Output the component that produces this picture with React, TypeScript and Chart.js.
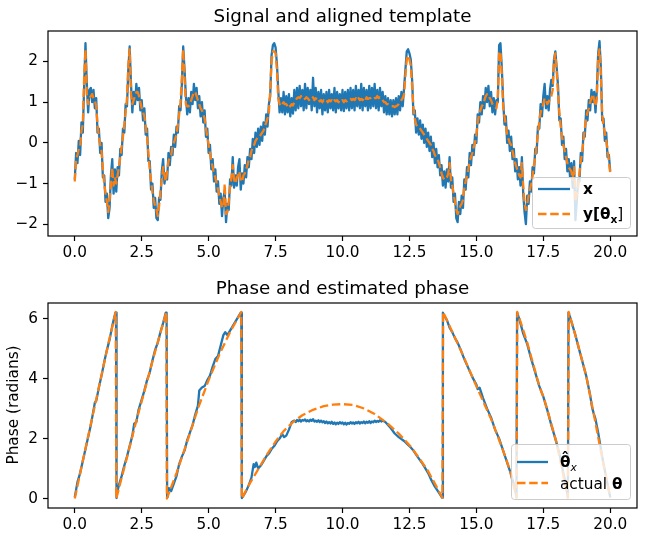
import React, { useEffect, useRef } from "react";
import { Chart, registerables } from "chart.js";

Chart.register(...registerables);

// ---------------- DATA ----------------
// Top panel: samples every SIGNAL_DT seconds, starting at t = 0
const SIGNAL_DT = 0.05;

// x : observed noisy signal (blue)
const signalX = [
  -0.90, -0.25, -0.50, 0.05, -0.30, 0.50, 0.25, 1.40, 2.45, 1.45, 0.75, 1.30, 1.35, 1.00, 1.30, 0.85, 1.10, 0.25, 0.35, -0.25,
  0.00, -0.85, -0.80, -1.45, -1.25, -1.85, -1.60, -0.80, -0.40, -1.25, -0.65, -1.20, -0.60, -0.80, -0.15, -0.30, 0.35, 0.25, 0.95, 0.90,
  1.80, 2.37, 1.45, 0.75, 1.25, 0.95, 1.45, 1.05, 1.35, 0.80, 1.05, 0.55, 0.85, 0.20, 0.35, -0.45, -0.45, -1.15, -1.00, -1.60,
  -1.35, -1.85, -1.90, -1.35, -1.40, -0.70, -0.40, -1.00, -0.75, -0.90, -0.25, -0.55, -0.10, -0.30, 0.20, -0.10, 0.40, 0.25, 0.90, 0.80,
  1.45, 2.37, 1.80, 1.15, 0.70, 1.10, 0.75, 1.25, 0.95, 1.45, 1.05, 1.35, 0.85, 1.15, 0.65, 1.00, 0.50, 0.80, 0.15, 0.35,
  -0.25, -0.05, -0.65, -0.40, -0.95, -0.65, -1.20, -0.95, -1.50, -1.25, -1.80, -1.35, -1.20, -1.95, -1.50, -1.65, -0.90, -1.05, -0.35, -1.10,
  -0.80, -1.05, -0.60, -0.40, -1.15, -0.75, -1.00, -0.55, -0.85, -0.35, -0.60, -0.15, -0.40, 0.10, -0.25, 0.25, -0.10, 0.35, -0.05, 0.40,
  0.05, 0.50, 0.20, 0.70, 0.40, 0.95, 1.15, 2.15, 2.40, 2.45, 2.35, 1.95, 1.30, 0.75, 1.10, 0.75, 1.25, 0.70, 1.15, 0.75,
  1.20, 0.65, 1.10, 0.72, 1.30, 0.80, 1.35, 0.85, 1.40, 0.90, 1.30, 0.80, 1.45, 0.85, 1.35, 0.95, 1.30, 0.80, 1.60, 0.90,
  1.35, 0.75, 1.25, 0.85, 1.30, 0.70, 1.20, 0.80, 1.25, 0.75, 1.30, 0.85, 1.20, 0.80, 1.35, 0.75, 1.25, 0.85, 1.20, 0.80,
  1.30, 0.78, 1.25, 0.85, 1.30, 0.80, 1.35, 0.85, 1.30, 0.80, 1.40, 0.90, 1.30, 0.85, 1.45, 0.80, 1.35, 0.90, 1.30, 0.80,
  1.40, 0.85, 1.35, 0.90, 1.45, 0.85, 1.30, 0.80, 1.35, 0.90, 1.25, 0.75, 1.15, 0.70, 1.10, 0.70, 1.05, 0.65, 1.05, 0.70,
  1.10, 0.70, 1.15, 0.80, 1.25, 0.90, 1.35, 1.80, 2.25, 2.30, 2.20, 2.05, 1.55, 0.70, 0.80, 0.25, 0.60, 0.20, 0.55, 0.10,
  0.45, 0.00, 0.35, -0.10, 0.25, -0.20, 0.15, -0.35, 0.00, -0.50, -0.15, -0.60, -0.30, -0.80, -0.55, -1.05, -0.70, -1.10, -0.65, -0.95,
  -0.35, -1.10, -0.85, -1.45, -1.25, -1.85, -1.95, -1.45, -1.75, -1.30, -1.60, -0.90, -1.15, -0.60, -0.85, -0.25, -0.55, -0.05, -0.30, 0.20,
  0.00, 0.70, 0.50, 1.00, 0.70, 1.15, 0.85, 1.35, 1.00, 1.40, 0.90, 1.25, 0.75, 1.10, 0.70, 1.05, 1.00, 2.40, 2.45, 1.85,
  1.05, 0.45, 0.65, 0.00, 0.30, -0.20, 0.15, -0.40, -0.15, -0.70, -0.40, -0.90, -0.60, -1.05, -0.35, -1.25, -1.70, -2.00, -1.30, -1.50,
  -0.95, -1.20, -0.60, -0.75, -0.15, -0.25, 0.40, 0.35, 0.95, 0.65, 1.15, 1.45, 0.85, 1.15, 0.80, 1.30, 1.55, 1.40, 2.05, 2.25,
  1.85, 1.40, 0.55, 0.60, -0.05, 0.15, -0.40, -0.15, -0.70, -0.40, -0.85, -0.50, -1.10, -0.45, -1.90, -1.45, -0.90, -0.95, -0.25, -0.45,
  0.25, 0.15, 0.80, 0.55, 1.05, 0.80, 1.30, 1.00, 1.25, 0.75, 1.30, 2.20, 2.50, 1.85, 0.55, 0.60, 0.05, 0.25, -0.35, -0.30,
  -0.70,
];

// y[theta_x] : aligned template (orange dashed)
const templateY = [
  -0.95, -0.40, -0.30, -0.15, -0.10, 0.30, 0.45, 1.60, 2.30, 1.20, 0.95, 1.10, 1.15, 1.20, 1.10, 1.05, 0.90, 0.45, 0.15, -0.05,
  -0.20, -0.65, -1.00, -1.25, -1.45, -1.70, -1.40, -1.00, -0.60, -1.05, -0.85, -1.00, -0.80, -0.60, -0.35, -0.10, 0.15, 0.45, 0.75, 1.10,
  1.90, 2.30, 1.20, 0.95, 1.05, 1.15, 1.25, 1.25, 1.15, 1.00, 0.85, 0.75, 0.65, 0.40, 0.15, -0.25, -0.65, -0.95, -1.20, -1.40,
  -1.55, -1.65, -1.80, -1.55, -1.20, -0.90, -0.60, -0.80, -0.95, -0.70, -0.45, -0.35, -0.30, -0.10, 0.00, 0.10, 0.20, 0.45, 0.70, 1.00,
  1.60, 2.30, 1.60, 0.95, 0.90, 0.90, 0.95, 1.05, 1.15, 1.25, 1.25, 1.15, 1.05, 0.95, 0.85, 0.80, 0.70, 0.60, 0.35, 0.15,
  -0.05, -0.25, -0.45, -0.60, -0.75, -0.85, -1.00, -1.15, -1.30, -1.45, -1.60, -1.55, -1.00, -1.75, -1.70, -1.45, -1.10, -0.85, -0.55, -0.90,
  -1.00, -0.85, -0.80, -0.70, -0.95, -0.95, -0.80, -0.75, -0.65, -0.55, -0.40, -0.35, -0.20, -0.10, -0.05, 0.05, 0.10, 0.15, 0.15, 0.20,
  0.25, 0.30, 0.40, 0.50, 0.60, 0.75, 1.30, 2.00, 2.25, 2.25, 2.20, 1.80, 1.10, 0.95, 0.90, 0.95, 1.00, 0.95, 0.95, 0.90,
  0.95, 0.90, 0.95, 0.92, 1.00, 1.05, 1.10, 1.12, 1.10, 1.15, 1.10, 1.12, 1.08, 1.12, 1.10, 1.05, 1.10, 1.08, 1.12, 1.05,
  1.10, 1.05, 1.08, 1.02, 1.05, 1.00, 1.05, 1.02, 1.05, 1.00, 1.05, 1.02, 1.05, 1.00, 1.05, 1.02, 1.05, 1.00, 1.05, 1.02,
  1.05, 1.00, 1.05, 1.02, 1.05, 1.05, 1.08, 1.05, 1.08, 1.05, 1.10, 1.05, 1.10, 1.05, 1.08, 1.05, 1.10, 1.05, 1.12, 1.08,
  1.10, 1.10, 1.12, 1.08, 1.10, 1.10, 1.15, 1.10, 1.12, 1.10, 1.05, 1.00, 1.00, 0.95, 0.95, 0.92, 0.90, 0.90, 0.90, 0.88,
  0.90, 0.92, 0.95, 1.00, 1.05, 1.10, 1.20, 1.65, 2.05, 2.15, 2.05, 1.90, 1.40, 0.85, 0.60, 0.45, 0.40, 0.40, 0.35, 0.30,
  0.25, 0.20, 0.15, 0.10, 0.05, 0.00, -0.05, -0.15, -0.20, -0.30, -0.35, -0.40, -0.50, -0.60, -0.75, -0.85, -0.90, -0.90, -0.85, -0.75,
  -0.50, -0.90, -1.05, -1.25, -1.45, -1.65, -1.75, -1.65, -1.55, -1.50, -1.40, -1.10, -0.95, -0.80, -0.65, -0.45, -0.35, -0.25, -0.10, 0.00,
  0.20, 0.50, 0.70, 0.80, 0.90, 0.95, 1.05, 1.15, 1.20, 1.20, 1.10, 1.05, 0.95, 0.90, 0.88, 0.85, 1.10, 2.20, 2.25, 1.70,
  0.90, 0.65, 0.45, 0.20, 0.10, 0.00, -0.05, -0.20, -0.35, -0.50, -0.60, -0.70, -0.80, -0.85, -0.50, -1.05, -1.50, -1.65, -1.50, -1.30,
  -1.15, -1.00, -0.80, -0.55, -0.35, -0.05, 0.20, 0.55, 0.75, 0.85, 0.95, 1.10, 1.05, 0.95, 1.00, 1.10, 1.15, 1.30, 2.00, 2.20,
  1.75, 1.20, 0.75, 0.40, 0.15, -0.05, -0.20, -0.35, -0.50, -0.60, -0.65, -0.70, -0.90, -0.60, -1.45, -1.25, -1.10, -0.75, -0.45, -0.25,
  0.05, 0.35, 0.60, 0.75, 0.85, 1.00, 1.10, 1.20, 1.05, 0.90, 1.10, 2.10, 2.30, 1.70, 0.70, 0.40, 0.25, 0.05, -0.15, -0.45,
  -0.75,
];

// Bottom panel: [time, phase] pairs
const phaseEstimated = [
  [0, 0.05], [0.05, 0.3], [0.1, 0.55], [0.2, 0.85], [0.3, 1.25], [0.4, 1.65], [0.5, 2.05], [0.6, 2.45], [0.7, 2.95], [0.75, 3.2],
  [0.8, 3.25], [0.9, 3.7], [1.0, 4.1], [1.1, 4.55], [1.2, 4.95], [1.3, 5.3], [1.4, 5.75], [1.45, 5.95], [1.52, 6.2], [1.54, 6.2], [1.55, 0.02],
  [1.57, 0.1], [1.65, 0.45], [1.75, 0.75], [1.85, 1.1], [1.95, 1.4], [2.05, 1.75], [2.15, 2.1], [2.22, 2.5], [2.3, 2.55], [2.38, 2.95],
  [2.5, 3.3], [2.6, 3.6], [2.7, 3.95], [2.8, 4.2], [2.9, 4.6], [3.0, 4.95], [3.1, 5.2], [3.2, 5.55], [3.3, 5.85], [3.4, 6.2], [3.43, 6.2], [3.45, 0.05],
  [3.47, 0.15], [3.52, 0.35], [3.6, 0.25], [3.7, 0.5], [3.8, 0.75], [3.9, 1.15], [4.0, 1.4], [4.1, 1.6], [4.2, 1.95], [4.3, 2.2],
  [4.4, 2.45], [4.5, 2.8], [4.6, 3.1], [4.65, 3.6], [4.75, 3.7], [4.85, 3.75], [4.95, 3.95], [5.05, 4.1], [5.15, 4.4], [5.25, 4.65],
  [5.35, 4.75], [5.45, 5.1], [5.55, 5.45], [5.62, 5.55], [5.7, 5.45], [5.8, 5.6], [5.9, 5.75], [6.0, 5.9], [6.1, 6.05], [6.2, 6.2], [6.22, 6.2], [6.24, 0.02],
  [6.3, 0.1], [6.4, 0.25], [6.5, 0.45], [6.6, 0.7], [6.68, 1.15], [6.72, 1.05], [6.78, 1.2], [6.85, 1.0], [6.95, 1.1], [7.05, 1.25],
  [7.15, 1.4], [7.25, 1.5], [7.35, 1.65], [7.45, 1.75], [7.55, 1.9], [7.65, 2.0], [7.75, 2.15], [7.82, 2.05], [7.9, 2.1], [8.0, 2.3], [8.1, 2.55],
  [8.15, 2.58], [8.2, 2.6], [8.25, 2.55], [8.3, 2.62], [8.35, 2.58], [8.4, 2.63], [8.45, 2.57], [8.5, 2.62], [8.55, 2.6], [8.6, 2.64],
  [8.65, 2.58], [8.7, 2.61], [8.75, 2.57], [8.8, 2.63], [8.85, 2.59], [8.9, 2.65], [8.95, 2.57], [9.0, 2.6], [9.05, 2.56], [9.1, 2.61],
  [9.15, 2.55], [9.2, 2.6], [9.25, 2.54], [9.3, 2.58], [9.35, 2.52], [9.4, 2.57], [9.45, 2.51], [9.5, 2.55], [9.55, 2.5], [9.6, 2.56],
  [9.65, 2.49], [9.7, 2.54], [9.75, 2.48], [9.8, 2.53], [9.85, 2.49], [9.9, 2.55], [9.95, 2.5], [10.0, 2.54], [10.05, 2.48], [10.1, 2.53],
  [10.15, 2.47], [10.2, 2.52], [10.25, 2.49], [10.3, 2.55], [10.35, 2.5], [10.4, 2.54], [10.45, 2.49], [10.5, 2.55], [10.55, 2.51], [10.6, 2.56],
  [10.65, 2.5], [10.7, 2.55], [10.75, 2.52], [10.8, 2.57], [10.85, 2.51], [10.9, 2.56], [10.95, 2.53], [11.0, 2.58], [11.05, 2.52], [11.1, 2.57],
  [11.15, 2.54], [11.2, 2.6], [11.25, 2.55], [11.3, 2.59], [11.35, 2.56], [11.4, 2.61], [11.45, 2.57], [11.5, 2.6], [11.55, 2.58], [11.6, 2.55],
  [11.7, 2.45], [11.8, 2.35], [11.95, 2.17], [12.1, 2.05], [12.3, 1.92], [12.5, 1.75], [12.65, 1.6], [12.8, 1.4], [13.0, 1.15], [13.2, 0.85],
  [13.3, 0.65], [13.45, 0.4], [13.6, 0.2], [13.72, 0.03], [13.75, 6.2],
  [13.8, 6.1], [13.9, 5.95], [14.0, 5.7], [14.1, 5.55], [14.2, 5.35], [14.3, 5.2], [14.42, 4.95], [14.55, 4.65], [14.7, 4.35], [14.85, 4.05],
  [15.0, 3.8], [15.05, 3.65], [15.12, 3.7], [15.25, 3.35], [15.4, 3.0], [15.55, 2.7], [15.7, 2.3], [15.85, 2.0], [16.0, 1.6], [16.15, 1.2],
  [16.3, 0.8], [16.42, 0.4], [16.5, 0.05], [16.52, 6.2],
  [16.6, 6.0], [16.75, 5.5], [16.9, 5.15], [17.05, 4.65], [17.2, 4.2], [17.35, 3.75], [17.5, 3.4], [17.65, 2.95], [17.8, 2.45], [17.95, 2.0],
  [18.1, 1.5], [18.25, 0.85], [18.35, 0.45], [18.42, 0.05], [18.44, 6.2],
  [18.5, 6.05], [18.6, 5.75], [18.7, 5.45], [18.8, 5.1], [18.95, 4.6], [19.1, 4.1], [19.25, 3.45], [19.32, 3.05], [19.38, 2.85], [19.45, 2.65],
  [19.55, 2.2], [19.7, 1.4], [19.85, 0.7], [20.0, 0.05],
];

const phaseActual = [
  [0, 0], [0.25, 1.05], [0.5, 2.08], [0.75, 3.1], [1.0, 4.12], [1.25, 5.15], [1.53, 6.22], [1.55, 0],
  [2.0, 1.55], [2.3, 2.6], [2.5, 3.25], [3.0, 4.9], [3.42, 6.22], [3.44, 0],
  [3.8, 0.85], [4.2, 1.9], [4.6, 3.0], [5.0, 3.95], [5.4, 4.8], [5.8, 5.55], [6.22, 6.22], [6.24, 0],
  [6.5, 0.45], [6.9, 1.05], [7.2, 1.5], [7.53, 1.94], [7.8, 2.25], [8.15, 2.55], [8.5, 2.78], [8.9, 2.96], [9.3, 3.08], [9.64, 3.13],
  [10.0, 3.15], [10.4, 3.12], [10.82, 3.0], [11.2, 2.82], [11.69, 2.5], [12.1, 2.17], [12.56, 1.72], [12.9, 1.3], [13.18, 0.94], [13.45, 0.5],
  [13.73, 0.03], [13.76, 6.22],
  [14.0, 5.75], [14.42, 4.94], [15.0, 3.75], [15.6, 2.55], [16.0, 1.6], [16.25, 0.95], [16.5, 0.03], [16.53, 6.22],
  [16.9, 5.2], [17.35, 3.75], [17.54, 3.3], [18.0, 1.85], [18.42, 0.03], [18.45, 6.22],
  [18.79, 5.15], [19.1, 4.1], [19.4, 2.75], [19.7, 1.35], [20.0, 0.03],
];

const xTickValues = [0, 2.5, 5, 7.5, 10, 12.5, 15, 17.5, 20];
const signalYTicks = [-2, -1, 0, 1, 2];
const phaseYTicks = [0, 2, 4, 6];

const topTitle = "Signal and aligned template";
const bottomTitle = "Phase and estimated phase";
const bottomYLabel = "Phase (radians)";

// ---------------- STYLE ----------------
const FONT = '"DejaVu Sans", "Liberation Sans", sans-serif';
const BLUE = "#1f77b4";
const ORANGE = "#ff7f0e";
const LW = 2.3;
const DASH = [8.5, 3.7];
const TICK_SIZE = 15.3;
const TITLE_SIZE = 18.3;

Chart.defaults.font.family = FONT;

function fmtX(v: number) {
  return Number(v).toFixed(1);
}
function fmtY(v: number) {
  return v < 0 ? "\u2212" + Math.abs(v) : String(v);
}

function xAxis(height: number) {
  return {
    type: "linear",
    min: -1,
    max: 21,
    afterBuildTicks: (s: any) => {
      s.ticks = xTickValues.map((v) => ({ value: v }));
    },
    afterFit: (s: any) => {
      s.height = height;
    },
    ticks: {
      callback: (v: any) => fmtX(v),
      color: "#000",
      font: { family: FONT, size: TICK_SIZE },
      padding: 3,
      maxRotation: 0,
      minRotation: 0,
      autoSkip: false,
    },
    grid: {
      display: true,
      drawOnChartArea: false,
      drawTicks: true,
      tickLength: 5,
      tickWidth: 1.2,
      tickColor: "#000",
    },
    border: { display: false },
  };
}

function yAxis(min: number, max: number, tickVals: number[]) {
  return {
    type: "linear",
    min,
    max,
    afterBuildTicks: (s: any) => {
      s.ticks = tickVals.map((v) => ({ value: v }));
    },
    afterFit: (s: any) => {
      s.width = 40;
    },
    ticks: {
      callback: (v: any) => fmtY(v),
      color: "#000",
      font: { family: FONT, size: TICK_SIZE },
      padding: 5,
      autoSkip: false,
    },
    grid: {
      display: true,
      drawOnChartArea: false,
      drawTicks: true,
      tickLength: 5,
      tickWidth: 1.2,
      tickColor: "#000",
    },
    border: { display: false },
  };
}

type Part = { text: string; bold?: boolean; italic?: boolean; size?: number; dy?: number };
type Row = { color: string; dash?: number[]; ly: number; x1: number; x2: number; tx: number; base: number; parts: Part[] };
type Legend = { x: number; y: number; w: number; h: number; rows: Row[] };

function drawLegend(ctx: CanvasRenderingContext2D, L: Legend) {
  ctx.save();
  ctx.beginPath();
  (ctx as any).roundRect(L.x + 0.5, L.y + 0.5, L.w, L.h, 3);
  ctx.fillStyle = "rgba(255,255,255,0.8)";
  ctx.fill();
  ctx.lineWidth = 1;
  ctx.strokeStyle = "#cccccc";
  ctx.stroke();
  for (const r of L.rows) {
    ctx.beginPath();
    ctx.moveTo(r.x1, r.ly);
    ctx.lineTo(r.x2, r.ly);
    ctx.strokeStyle = r.color;
    ctx.lineWidth = LW;
    ctx.lineCap = "butt";
    ctx.setLineDash(r.dash || []);
    ctx.stroke();
    ctx.setLineDash([]);
    let tx = r.tx;
    for (const p of r.parts) {
      ctx.font = `${p.italic ? "italic " : ""}${p.bold ? "bold " : ""}${p.size || TICK_SIZE}px ${FONT}`;
      ctx.fillStyle = "#000";
      ctx.textAlign = "left";
      ctx.textBaseline = "alphabetic";
      ctx.fillText(p.text, tx, r.base + (p.dy || 0));
      tx += ctx.measureText(p.text).width;
    }
  }
  ctx.restore();
}

function decor(id: string, title: string, titleBase: number, legend: Legend, ylabel?: { text: string; x: number; y: number }) {
  return {
    id,
    afterDraw(chart: any) {
      const ctx = chart.ctx as CanvasRenderingContext2D;
      const a = chart.chartArea;
      ctx.save();
      ctx.strokeStyle = "#000";
      ctx.lineWidth = 1.2;
      ctx.strokeRect(a.left, a.top, a.right - a.left, a.bottom - a.top);
      ctx.fillStyle = "#000";
      ctx.font = `${TITLE_SIZE}px ${FONT}`;
      ctx.textAlign = "center";
      ctx.textBaseline = "alphabetic";
      ctx.fillText(title, (a.left + a.right) / 2, titleBase);
      if (ylabel) {
        ctx.save();
        ctx.translate(ylabel.x, ylabel.y);
        ctx.rotate(-Math.PI / 2);
        ctx.font = `${TICK_SIZE}px ${FONT}`;
        ctx.textAlign = "center";
        ctx.textBaseline = "middle";
        ctx.fillText(ylabel.text, 0, 0);
        ctx.restore();
      }
      ctx.restore();
      drawLegend(ctx, legend);
    },
  };
}

function lineDs(label: string, data: { x: number; y: number }[], color: string, dashed: boolean, order: number) {
  return {
    label,
    data,
    borderColor: color,
    backgroundColor: color,
    borderWidth: LW,
    borderDash: dashed ? DASH : [],
    borderJoinStyle: "round",
    borderCapStyle: "butt",
    pointRadius: 0,
    pointHoverRadius: 0,
    tension: 0,
    fill: false,
    order,
  };
}

export default function App() {
  const topRef = useRef<HTMLCanvasElement>(null);
  const botRef = useRef<HTMLCanvasElement>(null);

  useEffect(() => {
    const xPts = signalX.map((v, i) => ({ x: i * SIGNAL_DT, y: v }));
    const yPts = templateY.map((v, i) => ({ x: i * SIGNAL_DT, y: v }));
    const estPts = phaseEstimated.map(([t, v]) => ({ x: t, y: v }));
    const actPts = phaseActual.map(([t, v]) => ({ x: t, y: v }));

    const topLegend: Legend = {
      x: 532, y: 177, w: 98, h: 51,
      rows: [
        { color: BLUE, ly: 189, x1: 538, x2: 570, tx: 583, base: 194, parts: [{ text: "x", bold: true }] },
        {
          color: ORANGE, dash: DASH, ly: 214, x1: 538, x2: 570, tx: 583, base: 219,
          parts: [
            { text: "y[\u03B8", bold: true },
            { text: "x", bold: true, size: 10.7, dy: 3.5 },
            { text: "]", bold: false },
          ],
        },
      ],
    };
    const botLegend: Legend = {
      x: 511, y: 174, w: 119, h: 55,
      rows: [
        {
          color: BLUE, ly: 192, x1: 517, x2: 548, tx: 560, base: 197,
          parts: [
            { text: "\u03B8\u0302", bold: true },
            { text: "x", italic: true, size: 10.7, dy: 3.5 },
          ],
        },
        {
          color: ORANGE, dash: DASH, ly: 213, x1: 517, x2: 548, tx: 560, base: 219,
          parts: [
            { text: "actual " },
            { text: "\u03B8", bold: true },
          ],
        },
      ],
    };

    const baseOptions = {
      responsive: false,
      maintainAspectRatio: false,
      animation: false,
      events: [],
      devicePixelRatio: 1,
      plugins: { legend: { display: false }, title: { display: false }, tooltip: { enabled: false } },
    };

    const c1 = new Chart(topRef.current as HTMLCanvasElement, {
      type: "line",
      data: {
        datasets: [
          lineDs("x", xPts, BLUE, false, 2),
          lineDs("y[θx]", yPts, ORANGE, true, 1),
        ],
      },
      options: {
        ...baseOptions,
        layout: { padding: { left: 8, right: 9, top: 31, bottom: 1 } },
        scales: {
          x: xAxis(33),
          y: yAxis(-2.29, 2.75, signalYTicks),
        },
      },
      plugins: [decor("decorTop", topTitle, 22, topLegend)],
    } as any);

    const c2 = new Chart(botRef.current as HTMLCanvasElement, {
      type: "line",
      data: {
        datasets: [
          lineDs("theta_hat_x", estPts, BLUE, false, 2),
          lineDs("actual theta", actPts, ORANGE, true, 1),
        ],
      },
      options: {
        ...baseOptions,
        layout: { padding: { left: 8, right: 9, top: 33, bottom: 1 } },
        scales: {
          x: xAxis(25),
          y: yAxis(-0.313, 6.52, phaseYTicks),
        },
      },
      plugins: [decor("decorBot", bottomTitle, 24, botLegend, { text: bottomYLabel, x: 14, y: 135 })],
    } as any);

    return () => {
      c1.destroy();
      c2.destroy();
    };
  }, []);

  return (
    <div style={{ position: "absolute", left: 0, top: 0, width: 646, height: 534, background: "#fff" }}>
      <canvas ref={topRef} width={646} height={270} style={{ position: "absolute", left: 0, top: 0, width: 646, height: 270 }} />
      <canvas ref={botRef} width={646} height={264} style={{ position: "absolute", left: 0, top: 270, width: 646, height: 264 }} />
    </div>
  );
}
